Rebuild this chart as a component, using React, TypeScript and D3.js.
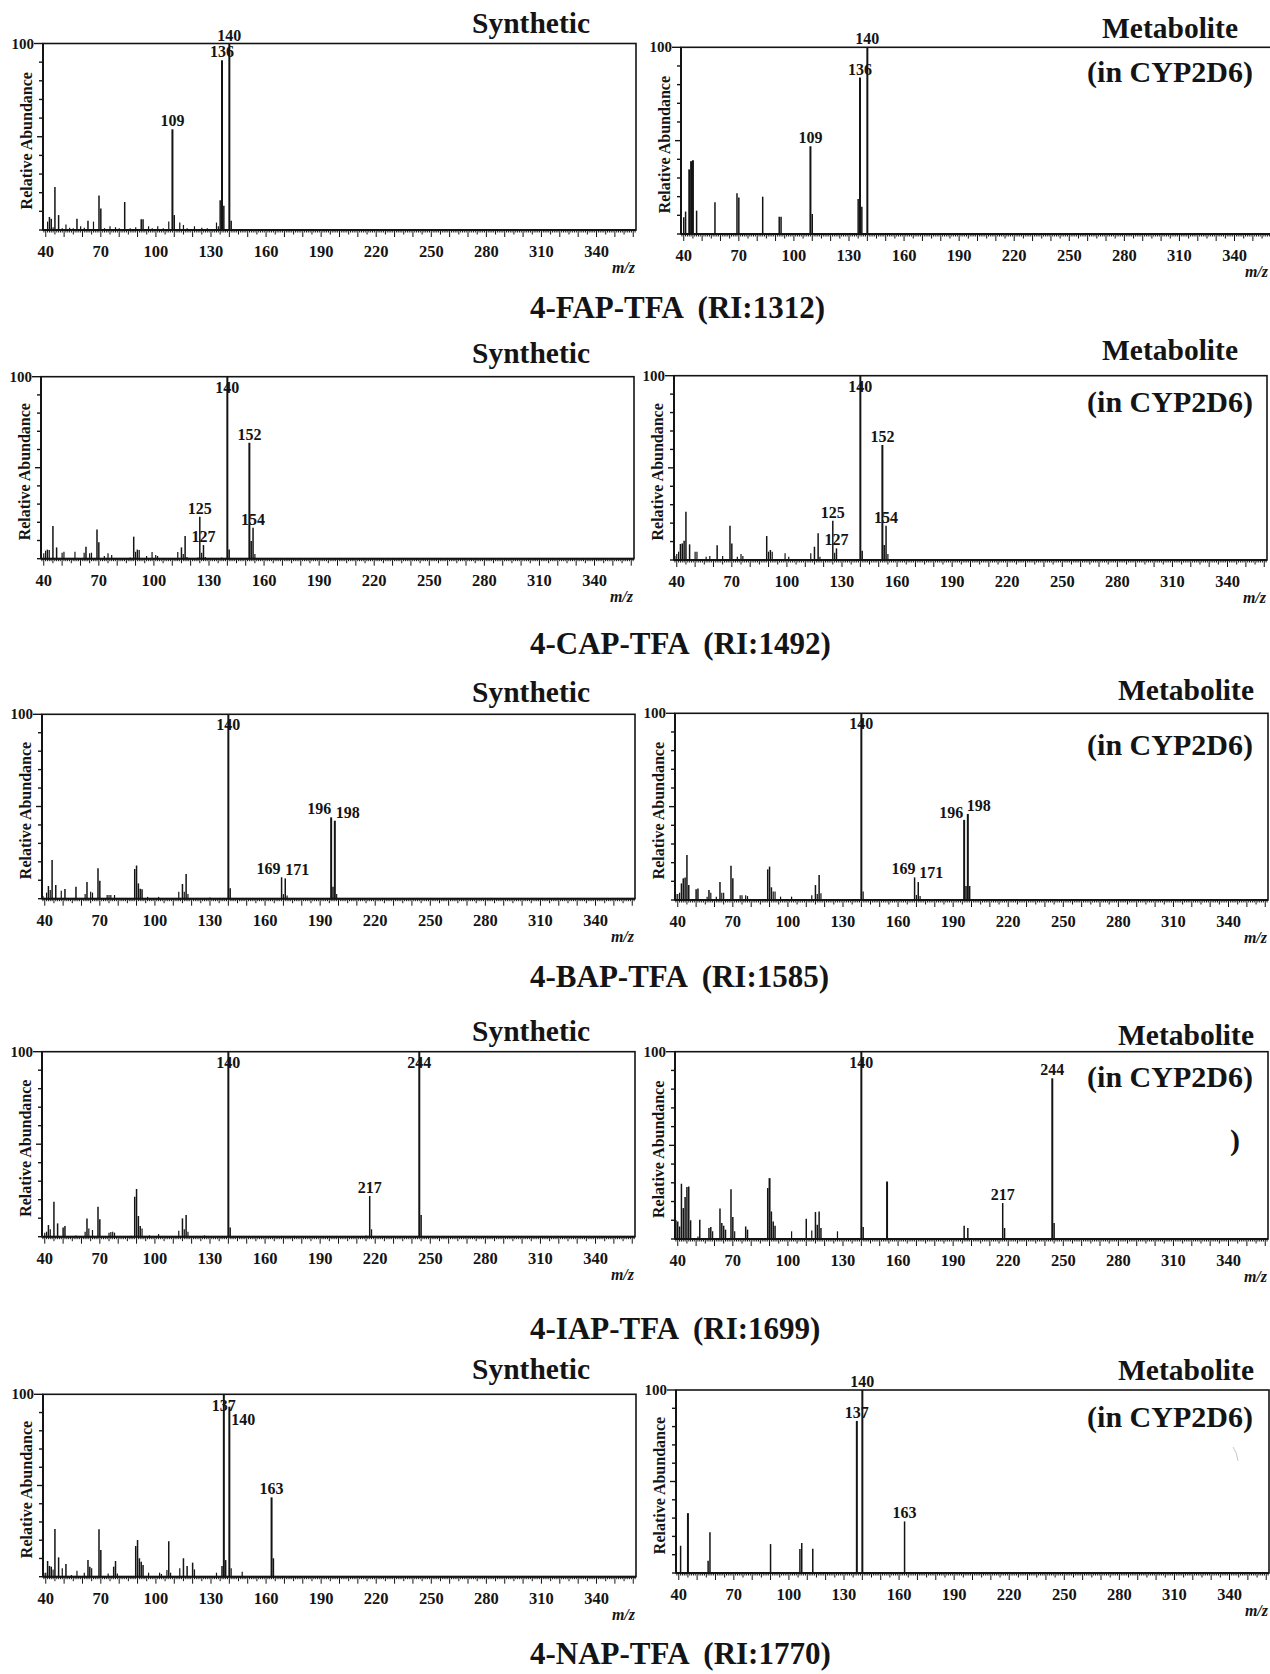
import React from 'react';
import * as d3 from 'd3';

type Peak = [number, number];

// ---------- axis definitions ----------
const MZ_DOMAIN: [number, number] = [38.5, 361.5];
const MZ_TICK_LABELS = [40, 70, 100, 130, 160, 190, 220, 250, 280, 310, 340];
const ABUNDANCE_TICKS = [0, 10, 20, 30, 40, 50, 60, 70, 80, 90, 100];

// ---------- compounds ----------
const COMPOUNDS = ['4-FAP-TFA', '4-CAP-TFA', '4-BAP-TFA', '4-IAP-TFA', '4-NAP-TFA'];
const RETENTION_INDEX = [1312, 1492, 1585, 1699, 1770];

// ---------- spectra: [m/z, relative abundance %] ----------
const fapSynthetic: Peak[] = [
  [41, 4.5], [42, 7], [43, 6], [44, 1.5], [45, 23], [47, 8], [49, 1], [51, 3], [53, 1.2], [55, 1],
  [57, 6], [59, 2], [61, 1.2], [63, 5], [66, 4.5], [69, 18.5], [70, 11.5], [72, 1], [75, 2], [78, 1.5],
  [80, 1], [83, 15], [86, 1], [89, 1.5], [92, 5.7], [93, 5.7], [96, 2], [98, 1], [101, 2], [104, 1],
  [107, 4.5], [109, 54], [110, 8], [113, 4], [115, 2.7], [117, 1], [121, 2], [125, 1.2], [128, 1],
  [133, 4], [134, 2], [135, 16], [136, 91], [137, 13], [140, 100], [141, 5],
];
const fapMetabolite: Peak[] = [
  [40, 9], [41, 12], [43, 34.6], [44, 39], [45, 39.5], [47, 12.5], [57, 17], [69, 21.8], [70, 19.6],
  [83, 20], [92, 9.3], [93, 9.3], [109, 47], [110, 10.7], [135, 18.7], [136, 83.8], [137, 14.6], [140, 100],
];
const capSynthetic: Peak[] = [
  [40, 3], [41, 4.4], [42, 5], [43, 4.8], [45, 18], [47, 6.2], [50, 3.3], [51, 3.8], [57, 3.8], [62, 3.3],
  [63, 6.6], [65, 3], [66, 3.3], [69, 16.1], [70, 9], [73, 1.5], [75, 3], [77, 2], [87, 0.7], [89, 12.1],
  [90, 3.8], [91, 5], [92, 4.8], [96, 1.5], [99, 3.7], [101, 2], [102, 1.5], [113, 3.7], [115, 6.2],
  [116, 2.6], [117, 12.5], [118, 1], [124, 0.6], [125, 23.1], [126, 3.3], [127, 7.5], [128, 1], [137, 0.6],
  [140, 100], [141, 5], [152, 63.7], [153, 9.7], [154, 17], [155, 2.6],
];
const capMetabolite: Peak[] = [
  [39, 2.2], [40, 3.3], [41, 4.5], [42, 8.7], [43, 9], [44, 10.5], [45, 26.2], [47, 8.5], [50, 4.5],
  [51, 4.5], [56, 1.8], [58, 2.2], [62, 8], [65, 2.2], [69, 18.6], [70, 9], [73, 1.8], [75, 3.3], [76, 2.2],
  [89, 13], [90, 4.5], [91, 5.4], [92, 4.5], [99, 3.6], [101, 1.8], [113, 3.6], [115, 7.2], [117, 14.5],
  [118, 1.8], [125, 21.3], [126, 4], [127, 6.3], [140, 100], [141, 5], [152, 62.4], [153, 8.1], [154, 18.6],
  [155, 3.3],
];
const bapSynthetic: Peak[] = [
  [39, 1.4], [41, 3.3], [42, 6.9], [43, 4.7], [44, 21], [46, 7.4], [49, 4.3], [51, 5.2], [57, 6.5],
  [62, 2.5], [63, 9], [65, 3.8], [66, 3.3], [69, 16.5], [70, 9.8], [74, 2], [75, 2], [76, 2], [78, 2],
  [89, 16.1], [90, 18], [91, 8.3], [92, 5.4], [93, 5.1], [96, 1], [102, 1], [113, 3.8], [115, 8], [116, 3.8],
  [117, 13.4], [118, 2.5], [130, 0.7], [140, 100], [141, 5.6], [169, 11.6], [170, 2.5], [171, 11], [172, 1.8],
  [196, 44.1], [197, 6.5], [198, 42.3], [199, 2.5],
];
const bapMetabolite: Peak[] = [
  [39, 3.2], [40, 3.2], [41, 3.9], [42, 8.9], [43, 11.6], [44, 12.1], [45, 24.1], [46, 8], [50, 5.7],
  [51, 6.1], [56, 1.8], [57, 5.4], [58, 3.9], [61, 1.8], [63, 9.6], [64, 3.9], [65, 3.9], [69, 18.4],
  [70, 11.6], [74, 2.5], [75, 2.5], [77, 2.5], [78, 2.1], [89, 16.4], [90, 17.9], [91, 6.8], [92, 4.5],
  [93, 4.5], [96, 1.8], [102, 1.8], [113, 2.5], [115, 8], [116, 3.2], [117, 13.4], [118, 3.6], [140, 100],
  [141, 4.5], [169, 12.1], [170, 2.7], [171, 9.6], [172, 2.1], [196, 42.9], [197, 7.5], [198, 46.1], [199, 7.5],
];
const iapSynthetic: Peak[] = [
  [40, 2.2], [41, 2.7], [42, 6.3], [43, 4], [45, 18.9], [47, 7.2], [50, 5], [51, 5.8], [57, 0.7], [62, 2.7],
  [63, 9.9], [64, 4.5], [66, 3.6], [69, 16.2], [70, 9.4], [75, 2.2], [76, 2.5], [77, 2.7], [78, 2.2],
  [87, 0.5], [89, 21.6], [90, 25.8], [91, 11.2], [92, 5.8], [93, 4.5], [97, 0.7], [102, 1.4], [113, 3.2],
  [115, 9.9], [116, 4], [117, 11.7], [118, 2.7], [127, 0.7], [140, 100], [141, 5], [215, 0.7], [217, 22],
  [218, 4], [244, 100], [245, 11.7],
];
const iapMetabolite: Peak[] = [
  [39, 10], [40, 9.4], [41, 6.7], [42, 29.5], [43, 16.5], [44, 22.4], [45, 27.7], [46, 28], [47, 10],
  [51, 1.4], [52, 10.3], [57, 5.9], [58, 6.4], [59, 4.1], [63, 16.3], [64, 8.5], [65, 7.1], [66, 5],
  [69, 26.6], [70, 11.7], [71, 4.1], [77, 6.7], [78, 5], [89, 27.2], [90, 32.5], [91, 14.7], [92, 9.4],
  [93, 7.1], [102, 4.1], [110, 10.8], [113, 4.6], [115, 14.4], [116, 7.6], [117, 14.7], [118, 5.9],
  [127, 4.1], [140, 100], [141, 6.4], [154, 30.7], [196, 7.1], [198, 5.9], [217, 19.2], [218, 5.9],
  [244, 85.8], [245, 8.5],
];
const napSynthetic: Peak[] = [
  [39, 2.2], [40, 2.2], [41, 8.6], [42, 5.9], [43, 5.5], [44, 4], [45, 26.1], [47, 10.6], [49, 4.6],
  [51, 6.9], [54, 0.9], [57, 3.3], [61, 2.2], [63, 9.1], [64, 5.5], [65, 4.6], [69, 26], [70, 14.6],
  [74, 1.8], [77, 5.5], [78, 8.6], [79, 1.8], [89, 16.8], [90, 20.1], [91, 10.1], [92, 8.2], [93, 6.4],
  [96, 2.2], [102, 2.2], [103, 1.5], [106, 3.7], [107, 19.4], [108, 2.2], [113, 4.6], [115, 10.1],
  [117, 5.9], [120, 7.7], [121, 4], [133, 2.2], [136, 5.9], [137, 100], [138, 9.1], [140, 93.2], [141, 4.6],
  [147, 2.7], [163, 43.5], [164, 10.1],
];
const napMetabolite: Peak[] = [
  [41, 14.9], [45, 32.7], [56, 6.7], [57, 22.2], [90, 15.8], [106, 13.1], [107, 16.4], [113, 13.3],
  [137, 83.1], [140, 100], [163, 28.2],
];

// ---------- annotated peaks (m/z values that carry a label) ----------
const fapSyntheticLabels = [109, 136, 140];
const fapMetaboliteLabels = [109, 136, 140];
const capSyntheticLabels = [125, 127, 140, 152, 154];
const capMetaboliteLabels = [125, 127, 140, 152, 154];
const bapSyntheticLabels = [140, 169, 171, 196, 198];
const bapMetaboliteLabels = [140, 169, 171, 196, 198];
const iapSyntheticLabels = [140, 217, 244];
const iapMetaboliteLabels = [140, 217, 244];
const napSyntheticLabels = [137, 140, 163];
const napMetaboliteLabels = [137, 140, 163];

// ---------- layout (pixels) ----------
type Nudge = { inside?: boolean; dx?: number; dy?: number };
type PanelLayout = {
  peaks: Peak[];
  labels: number[];
  nudges: Record<number, Nudge>;
  x0: number;
  top: number;
  bottom: number;
};
const PLOT_W = 593;
const FONT = "'Liberation Serif', 'Times New Roman', Times, serif";
const INK = '#141414';

const panels: PanelLayout[] = [
  { peaks: fapSynthetic, labels: fapSyntheticLabels, nudges: {}, x0: 43, top: 43.5, bottom: 230 },
  { peaks: fapMetabolite, labels: fapMetaboliteLabels, nudges: {}, x0: 681, top: 47.3, bottom: 234 },
  { peaks: capSynthetic, labels: capSyntheticLabels, nudges: { 140: { inside: true } }, x0: 41, top: 376.7, bottom: 558.7 },
  { peaks: capMetabolite, labels: capMetaboliteLabels, nudges: { 140: { inside: true } }, x0: 674, top: 375.7, bottom: 560 },
  {
    peaks: bapSynthetic, labels: bapSyntheticLabels,
    nudges: { 140: { inside: true }, 169: { dx: -13 }, 171: { dx: 12 }, 196: { dx: -12 }, 198: { dx: 13 } },
    x0: 42, top: 714.3, bottom: 898.7,
  },
  {
    peaks: bapMetabolite, labels: bapMetaboliteLabels,
    nudges: { 140: { inside: true }, 169: { dx: -11 }, 171: { dx: 13, dy: -1 }, 196: { dx: -13, dy: 1 }, 198: { dx: 11 } },
    x0: 675, top: 713.3, bottom: 900,
  },
  { peaks: iapSynthetic, labels: iapSyntheticLabels, nudges: { 140: { inside: true }, 244: { inside: true } }, x0: 42, top: 1051.7, bottom: 1236.7 },
  { peaks: iapMetabolite, labels: iapMetaboliteLabels, nudges: { 140: { inside: true } }, x0: 675, top: 1051.7, bottom: 1239 },
  { peaks: napSynthetic, labels: napSyntheticLabels, nudges: { 137: { inside: true, dy: 1 }, 140: { dx: 14, dy: 21 } }, x0: 43, top: 1394.3, bottom: 1576.7 },
  { peaks: napMetabolite, labels: napMetaboliteLabels, nudges: {}, x0: 676, top: 1390, bottom: 1573 },
];

const syntheticTitleY = [33, 363, 702, 1041, 1379];
const metaboliteTitle = [
  { cx: 1170, y: 38, y2: 82 },
  { cx: 1170, y: 360, y2: 412 },
  { cx: 1186, y: 700, y2: 755 },
  { cx: 1186, y: 1045, y2: 1087 },
  { cx: 1186, y: 1380, y2: 1427 },
];
const CYP_CX = 1170;
const compoundTitleY = [318, 654, 987, 1339, 1664];

function Panel({ p }: { p: PanelLayout }) {
  const x = d3.scaleLinear().domain(MZ_DOMAIN).range([p.x0, p.x0 + PLOT_W]);
  const y = d3.scaleLinear().domain([0, 100]).range([p.bottom, p.top]);
  const minorTicks = d3.range(Math.ceil(MZ_DOMAIN[0]), Math.floor(MZ_DOMAIN[1]) + 1);
  const peakMap = new Map(p.peaks.map((d) => [d[0], d[1]]));
  const right = p.x0 + PLOT_W;
  const mzX = Math.min(right - 1, 1268);
  return (
    <g>
      {/* frame */}
      <rect x={p.x0} y={p.top} width={PLOT_W} height={p.bottom - p.top} fill="none" stroke={INK} strokeWidth={1.6} />
      <line x1={p.x0} x2={p.x0} y1={p.top} y2={p.bottom} stroke={INK} strokeWidth={2} />
      <line x1={p.x0} x2={right} y1={p.bottom} y2={p.bottom} stroke={INK} strokeWidth={2} />
      {/* y ticks */}
      {ABUNDANCE_TICKS.map((t) => {
        const len = t === 100 ? 9 : t === 50 ? 6 : 4;
        return <line key={'y' + t} x1={p.x0 - len} x2={p.x0} y1={y(t)} y2={y(t)} stroke={INK} strokeWidth={1.4} />;
      })}
      <text x={p.x0 - 9} y={y(100) + 5} textAnchor="end" fontFamily={FONT} fontWeight="bold" fontSize={15} fill={INK}>
        100
      </text>
      <text
        transform={`translate(${p.x0 - 11},${(p.top + p.bottom) / 2 + 4}) rotate(-90)`}
        textAnchor="middle"
        fontFamily={FONT}
        fontWeight="bold"
        fontSize={16}
        fill={INK}
      >
        Relative Abundance
      </text>
      {/* x ticks */}
      {minorTicks.map((t) => {
        const len = t % 10 === 0 ? 7 : t % 5 === 0 ? 4.5 : 2.5;
        return <line key={'x' + t} x1={x(t)} x2={x(t)} y1={p.bottom} y2={p.bottom + len} stroke={INK} strokeWidth={1} />;
      })}
      {MZ_TICK_LABELS.map((t) => (
        <text key={'xl' + t} x={x(t)} y={p.bottom + 27} textAnchor="middle" fontFamily={FONT} fontWeight="bold" fontSize={16.5} fill={INK}>
          {t}
        </text>
      ))}
      <text x={mzX} y={p.bottom + 43} textAnchor="end" fontFamily={FONT} fontWeight="bold" fontStyle="italic" fontSize={16} fill={INK}>
        m/z
      </text>
      {/* peak labels */}
      {p.labels.map((mz) => {
        const v = peakMap.get(mz) ?? 0;
        const n = p.nudges[mz] || {};
        const baseY = n.inside ? p.top + 16 : y(v) - 3;
        return (
          <text
            key={'pl' + mz}
            x={x(mz) + (n.dx || 0)}
            y={baseY + (n.dy || 0)}
            textAnchor="middle"
            fontFamily={FONT}
            fontWeight="bold"
            fontSize={16}
            fill={INK}
          >
            {mz}
          </text>
        );
      })}
      {/* peaks */}
      {p.peaks.map(([mz, v]) => (
        <line
          key={'b' + mz}
          x1={x(mz)}
          x2={x(mz)}
          y1={y(0)}
          y2={y(v)}
          stroke={INK}
          strokeWidth={v >= 30 ? 2 : v >= 5 ? 1.5 : 1.2}
        />
      ))}
    </g>
  );
}

export default function App() {
  return (
    <svg
      width={1270}
      height={1674}
      viewBox="0 0 1270 1674"
      style={{ position: 'absolute', left: 0, top: 0, background: '#fff' }}
    >
      <rect x={0} y={0} width={1270} height={1674} fill="#fff" />
      {panels.map((p, i) => (
        <Panel key={i} p={p} />
      ))}
      {COMPOUNDS.map((c, i) => (
        <g key={c}>
          <text x={531} y={syntheticTitleY[i]} textAnchor="middle" fontFamily={FONT} fontWeight="bold" fontSize={29.5} fill={INK}>
            Synthetic
          </text>
          <text x={metaboliteTitle[i].cx} y={metaboliteTitle[i].y} textAnchor="middle" fontFamily={FONT} fontWeight="bold" fontSize={29.5} fill={INK}>
            Metabolite
          </text>
          <text x={CYP_CX} y={metaboliteTitle[i].y2} textAnchor="middle" fontFamily={FONT} fontWeight="bold" fontSize={30} fill={INK}>
            (in CYP2D6)
          </text>
          <text x={530} y={compoundTitleY[i]} fontFamily={FONT} fontWeight="bold" fontSize={31} fill={INK} style={{ whiteSpace: 'pre' }}>
            {`${c}  (RI:${RETENTION_INDEX[i]})`}
          </text>
        </g>
      ))}
      <text x={1235} y={1150} textAnchor="middle" fontFamily={FONT} fontWeight="bold" fontSize={30} fill={INK}>
        )
      </text>
      <path d="M1233,1447 Q1237,1452 1238,1461" fill="none" stroke="#c8c8c8" strokeWidth={1} />
    </svg>
  );
}
